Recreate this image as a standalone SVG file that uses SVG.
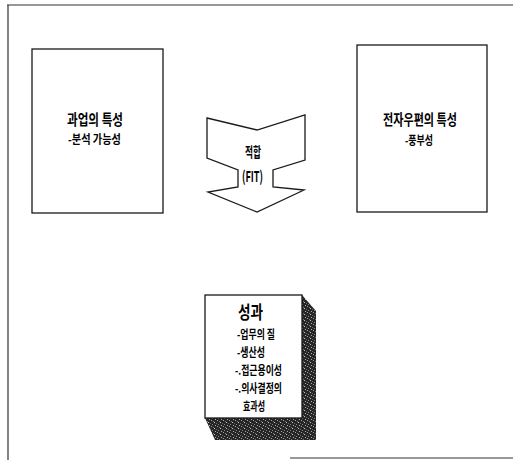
<svg xmlns="http://www.w3.org/2000/svg" width="513" height="460" viewBox="0 0 513 460">
<style>
.box{fill:#fff;stroke:#1a1a1a;stroke-width:1.3}
.frame{fill:none;stroke:#333;stroke-width:1.2}
.t{font-family:"Noto Sans CJK KR","Noto Sans",sans-serif;font-weight:bold;fill:#000}
.h{font-size:15px}
.s{font-size:12px}
</style>
<defs>
<pattern id="stip" width="6" height="6" patternUnits="userSpaceOnUse">
<rect width="6" height="6" fill="#262626"/>
<rect x="1" y="0" width="1" height="1" fill="#a0a0a0"/>
<rect x="4" y="2" width="1" height="1" fill="#c4c4c4"/>
<rect x="2" y="4" width="1" height="1" fill="#858585"/>
<rect x="5" y="5" width="1" height="1" fill="#b0b0b0"/>
<rect x="0" y="3" width="1" height="1" fill="#666"/>
<rect x="3" y="1" width="1" height="1" fill="#777"/>
</pattern>
</defs>
<rect width="513" height="460" fill="#fff"/>
<g id="frame">
<path class="frame" d="M7,5 H513 M8,5 V460 M290,458 H513"/>
</g>
<g id="connectors"/>
<g id="task">
<rect class="box" x="32" y="49" width="131" height="164"/>
<text class="t h" x="67" y="125" textLength="56" lengthAdjust="spacingAndGlyphs">과업의 특성</text>
<text class="t s" x="68" y="144" textLength="53" lengthAdjust="spacingAndGlyphs">-분석 가능성</text>
</g>
<g id="email">
<rect class="box" x="357" y="45" width="130" height="167"/>
<text class="t h" x="383" y="125" textLength="74" lengthAdjust="spacingAndGlyphs">전자우편의 특성</text>
<text class="t s" x="405" y="145" textLength="28" lengthAdjust="spacingAndGlyphs">-풍부성</text>
</g>
<g id="fit">
<polygon class="box" stroke-width="1" points="207,118 257,130 305,115 305,160 273,170 273,187 304,190 257,212 208,192 238,187 238,170 207,158"/>
<text class="t" font-size="14" x="245" y="157" textLength="16" lengthAdjust="spacingAndGlyphs">적합</text>
<text class="t" font-size="15" x="242" y="182" textLength="21" lengthAdjust="spacingAndGlyphs">(FIT)</text>
</g>
<g id="result">
<polygon fill="url(#stip)" points="302,295 316,311 316,440 215,440 205,418 302,418"/>
<rect class="box" x="205" y="295" width="97" height="123"/>
<text class="t" font-size="18" x="238" y="319" textLength="25" lengthAdjust="spacingAndGlyphs">성과</text>
<text class="t s" x="237" y="339" textLength="38" lengthAdjust="spacingAndGlyphs">-업무의 질</text>
<text class="t s" x="237" y="357" textLength="28" lengthAdjust="spacingAndGlyphs">-생산성</text>
<text class="t s" x="235" y="375" textLength="47" lengthAdjust="spacingAndGlyphs">-.접근용이성</text>
<text class="t s" x="235" y="393" textLength="47" lengthAdjust="spacingAndGlyphs">-.의사결정의</text>
<text class="t s" x="243" y="411" textLength="22" lengthAdjust="spacingAndGlyphs">효과성</text>
</g>
</svg>
